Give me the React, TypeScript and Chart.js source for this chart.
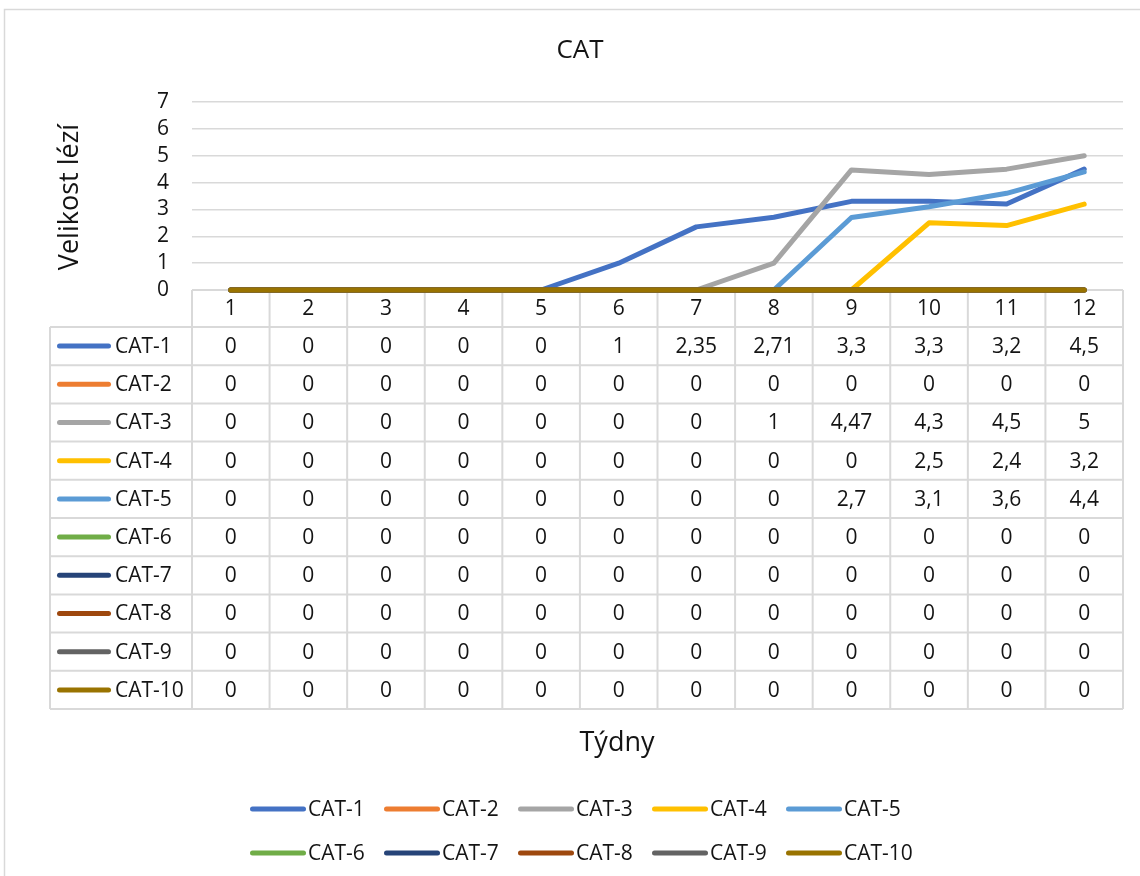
import React, { useEffect, useRef } from "react";
import { Chart, registerables } from "chart.js";

Chart.register(...registerables);

const weeks = ["1", "2", "3", "4", "5", "6", "7", "8", "9", "10", "11", "12"];
const seriesNames = ["CAT-1", "CAT-2", "CAT-3", "CAT-4", "CAT-5", "CAT-6", "CAT-7", "CAT-8", "CAT-9", "CAT-10"];
const cat1 = [0, 0, 0, 0, 0, 1, 2.35, 2.71, 3.3, 3.3, 3.2, 4.5];
const cat2 = [0, 0, 0, 0, 0, 0, 0, 0, 0, 0, 0, 0];
const cat3 = [0, 0, 0, 0, 0, 0, 0, 1, 4.47, 4.3, 4.5, 5];
const cat4 = [0, 0, 0, 0, 0, 0, 0, 0, 0, 2.5, 2.4, 3.2];
const cat5 = [0, 0, 0, 0, 0, 0, 0, 0, 2.7, 3.1, 3.6, 4.4];
const cat6 = [0, 0, 0, 0, 0, 0, 0, 0, 0, 0, 0, 0];
const cat7 = [0, 0, 0, 0, 0, 0, 0, 0, 0, 0, 0, 0];
const cat8 = [0, 0, 0, 0, 0, 0, 0, 0, 0, 0, 0, 0];
const cat9 = [0, 0, 0, 0, 0, 0, 0, 0, 0, 0, 0, 0];
const cat10 = [0, 0, 0, 0, 0, 0, 0, 0, 0, 0, 0, 0];
const seriesValues = [cat1, cat2, cat3, cat4, cat5, cat6, cat7, cat8, cat9, cat10];
const colors = ["#4472C4", "#ED7D31", "#A5A5A5", "#FFC000", "#5B9BD5", "#70AD47", "#264478", "#9E480E", "#636363", "#997300"];
const yMin = 0;
const yMax = 7;
const yStep = 1;

const chartTitle = "CAT";
const yTitle = "Velikost lézí";
const xTitle = "Týdny";

const FONT = "'Open Sans', 'Noto Sans', sans-serif";
const TEXT = "#141414";
const LINE = "#d9d9d9";

const fmt = (v: number) => String(v).replace(".", ",");

const ROW_H = 38.2;
const HEAD_H = 37;
const TABLE_LEFT = 50;

const decorPlugin = {
  id: "decor",
  beforeDatasetsDraw(chart: any) {
    const ctx = chart.ctx as CanvasRenderingContext2D;
    const area = chart.chartArea;
    const xs = chart.scales.x;
    const n = weeks.length;
    const step = xs.getPixelForValue(1) - xs.getPixelForValue(0);
    const headTop = area.bottom;
    const headBottom = area.bottom + HEAD_H;
    const nRows = seriesNames.length;
    const tableBottom = headBottom + ROW_H * nRows;

    ctx.save();
    // outer frame (left & top visible)
    ctx.strokeStyle = LINE;
    ctx.lineWidth = 1.5;
    ctx.beginPath();
    ctx.moveTo(4.5, 900);
    ctx.lineTo(4.5, 9.5);
    ctx.lineTo(1200, 9.5);
    ctx.stroke();

    // table lines
    ctx.lineWidth = 2;
    ctx.beginPath();
    ctx.moveTo(area.left, headTop);
    ctx.lineTo(area.right, headTop);
    for (let r = 0; r <= nRows; r++) {
      const y = headBottom + ROW_H * r;
      ctx.moveTo(TABLE_LEFT, y);
      ctx.lineTo(area.right, y);
    }
    for (let i = 0; i <= n; i++) {
      const x = i < n ? xs.getPixelForValue(i) - step / 2 : xs.getPixelForValue(n - 1) + step / 2;
      ctx.moveTo(x, headTop);
      ctx.lineTo(x, tableBottom);
    }
    ctx.moveTo(TABLE_LEFT, headBottom);
    ctx.lineTo(TABLE_LEFT, tableBottom);
    ctx.stroke();
    ctx.restore();
  },
  afterDraw(chart: any) {
    const ctx = chart.ctx as CanvasRenderingContext2D;
    const area = chart.chartArea;
    const xs = chart.scales.x;
    const n = weeks.length;
    const headTop = area.bottom;
    const headBottom = area.bottom + HEAD_H;
    const nRows = seriesNames.length;

    ctx.save();
    ctx.fillStyle = TEXT;
    ctx.font = `21px ${FONT}`;
    ctx.textAlign = "center";
    ctx.textBaseline = "middle";
    for (let i = 0; i < n; i++) {
      const cx = xs.getPixelForValue(i);
      ctx.fillText(weeks[i], cx, (headTop + headBottom) / 2 + 1);
    }
    for (let r = 0; r < nRows; r++) {
      const cy = headBottom + ROW_H * r + ROW_H / 2 + 1;
      const vals = seriesValues[r];
      ctx.textAlign = "center";
      for (let i = 0; i < n; i++) {
        ctx.fillText(fmt(vals[i]), xs.getPixelForValue(i), cy);
      }
      ctx.strokeStyle = colors[r];
      ctx.lineWidth = 5;
      ctx.lineCap = "round";
      ctx.beginPath();
      ctx.moveTo(59.5, cy - 1);
      ctx.lineTo(108.5, cy - 1);
      ctx.stroke();
      ctx.textAlign = "left";
      ctx.fillText(seriesNames[r], 115, cy);
    }

    // bottom legend
    for (let i = 0; i < seriesNames.length; i++) {
      const row = Math.floor(i / 5);
      const col = i % 5;
      const x0 = 250 + col * 134;
      const y = 809 + row * 44;
      ctx.strokeStyle = colors[i];
      ctx.lineWidth = 5;
      ctx.lineCap = "round";
      ctx.beginPath();
      ctx.moveTo(x0 + 2.5, y);
      ctx.lineTo(x0 + 53.5, y);
      ctx.stroke();
      ctx.textAlign = "left";
      ctx.fillText(seriesNames[i], x0 + 58, y + 1);
    }

    // titles
    ctx.textAlign = "center";
    ctx.font = `26px ${FONT}`;
    ctx.fillText(chartTitle, 580, 51);
    ctx.font = `27px ${FONT}`;
    ctx.fillText(xTitle, 617, 743);
    ctx.save();
    ctx.translate(70, 197);
    ctx.rotate(-Math.PI / 2);
    ctx.fillText(yTitle, 0, 0);
    ctx.restore();

    ctx.restore();
  },
};

export default function App() {
  const ref = useRef<HTMLCanvasElement | null>(null);

  useEffect(() => {
    if (!ref.current) return;
    const datasets = seriesNames.map((name, i) => ({
      label: name,
      data: seriesValues[i],
      borderColor: colors[i],
      backgroundColor: colors[i],
      borderWidth: 5,
      pointRadius: 0,
      pointHoverRadius: 0,
      tension: 0,
      fill: false,
      borderCapStyle: "round" as const,
      borderJoinStyle: "round" as const,
      clip: false as any,
      order: seriesNames.length - i,
    }));
    const chart = new Chart(ref.current, {
      type: "line",
      data: { labels: weeks, datasets },
      options: {
        animation: false,
        responsive: false,
        devicePixelRatio: 1,
        layout: { padding: { top: 102, right: 17, bottom: 586, left: 0 } },
        plugins: {
          legend: { display: false },
          title: { display: false },
          tooltip: { enabled: false },
        },
        scales: {
          x: {
            type: "category",
            display: false,
            offset: true,
          },
          y: {
            min: yMin,
            max: yMax,
            afterFit: (scale: any) => {
              scale.width = 192;
            },
            grid: { color: LINE, lineWidth: 1.5, drawTicks: false },
            border: { display: false },
            ticks: {
              stepSize: yStep,
              autoSkip: false,
              maxTicksLimit: 20,
              padding: 23,
              color: TEXT,
              font: { family: FONT, size: 21 },
              callback: (v: any) => fmt(Number(v)),
            },
          },
        },
      },
      plugins: [decorPlugin],
    });
    return () => chart.destroy();
  }, []);

  return (
    <div style={{ position: "absolute", left: 0, top: 0, width: 1140, height: 876, background: "#fff" }}>
      <canvas ref={ref} width={1140} height={876} style={{ display: "block" }} />
    </div>
  );
}
